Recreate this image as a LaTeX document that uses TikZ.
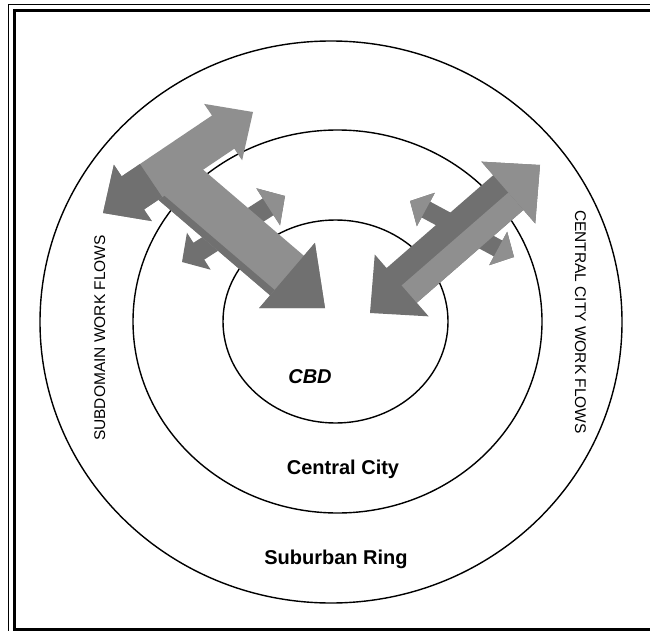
\documentclass[tikz,border=0pt]{standalone}
\usepackage{fontspec}
\setmainfont{Liberation Sans}
\usetikzlibrary{calc}
\definecolor{arrdark}{gray}{0.44}
\definecolor{arrmid}{gray}{0.56}
% double-headed block arrow: #1 tip A, #2 tip B, #3 shaft half width, #4 head half width, #5 head length, #6 style
\newcommand{\dblarr}[6]{%
  \coordinate (qa) at #1; \coordinate (qb) at #2;
  \coordinate (qa1) at ($(qa)!#5!(qb)$);
  \coordinate (qb1) at ($(qb)!#5!(qa)$);
  \fill[#6] (qa) -- ($(qa1)!#4!90:(qb)$) -- ($(qa1)!#3!90:(qb)$) -- ($(qb1)!#3!90:(qb)$)
    -- ($(qb1)!#4!90:(qb)$) -- (qb) -- ($(qb1)!#4!-90:(qb)$) -- ($(qb1)!#3!-90:(qb)$)
    -- ($(qa1)!#3!-90:(qb)$) -- ($(qa1)!#4!-90:(qb)$) -- cycle;}
% single-headed block arrow: #1 tail, #2 tip, #3 shaft half width, #4 head half width, #5 head length, #6 style
\newcommand{\sglarr}[6]{%
  \coordinate (qa) at #1; \coordinate (qb) at #2;
  \coordinate (qb1) at ($(qb)!#5!(qa)$);
  \fill[#6] ($(qa)!#3!90:(qb)$) -- ($(qb1)!#3!90:(qb)$) -- ($(qb1)!#4!90:(qb)$) -- (qb)
    -- ($(qb1)!#4!-90:(qb)$) -- ($(qb1)!#3!-90:(qb)$) -- ($(qa)!#3!-90:(qb)$) -- cycle;}
% arrow head with shaft stub: #1 tip, #2 point toward tail, #3 head length, #4 head half width, #5 stub end distance, #6 shaft half width, #7 style
\newcommand{\arrhead}[7]{%
  \coordinate (qt) at #1; \coordinate (qo) at #2;
  \coordinate (qh) at ($(qt)!#3!(qo)$);
  \coordinate (qs) at ($(qt)!#5!(qo)$);
  \fill[#7] (qt) -- ($(qh)!#4!90:(qo)$) -- ($(qh)!#6!90:(qo)$) -- ($(qs)!#6!90:(qo)$)
    -- ($(qs)!#6!-90:(qo)$) -- ($(qh)!#6!-90:(qo)$) -- ($(qh)!#4!-90:(qo)$) -- cycle;}
% band along a shaft: #1 A, #2 B, #3 side angle (90 or -90), #4 inner offset, #5 outer offset, #6 style
\newcommand{\shaftband}[6]{%
  \coordinate (qa) at #1; \coordinate (qb) at #2;
  \coordinate (qx) at ($(qa)!2!(qb)$);
  \fill[#6] ($(qa)!#4!#3:(qb)$) -- ($(qb)!#4!#3:(qx)$) -- ($(qb)!#5!#3:(qx)$) -- ($(qa)!#5!#3:(qb)$) -- cycle;}
\tikzset{
  ring/.style={draw=black, line width=1.4pt},
  lbl/.style={anchor=base, inner sep=0pt, font=\fontsize{20}{24}\selectfont\bfseries},
  vlbl/.style={anchor=base, inner sep=0pt, font=\fontsize{15.5}{18}\selectfont},
  frame/.style={draw=black, line cap=butt, line join=miter}
}
\begin{document}
\begin{tikzpicture}[x=1pt, y=-1pt]
\useasboundingbox (0,0) rectangle (650,631);
\fill[white] (0,0) rectangle (650,631);
% frame
\draw[frame, line width=1.2pt] (8.5,631) -- (8.5,4.5) -- (650,4.5);
\draw[frame, line width=3.5pt] (14.5,631) -- (14.5,10.5) -- (650,10.5);
\draw[frame, line width=4pt] (12.75,629.5) -- (650,629.5);
% rings
\draw[ring] (331,322) ellipse [x radius=291pt, y radius=281pt];
\draw[ring] (337.5,321.5) ellipse [x radius=204.5pt, y radius=191.5pt];
\draw[ring] (335.5,321.5) ellipse [x radius=112.5pt, y radius=101.5pt];
% ---- left group (subdomain work flows)
\dblarr{(182,262)}{(285,196)}{10pt}{22pt}{20pt}{arrdark}
\arrhead{(285,196)}{(182,262)}{20pt}{22pt}{20pt}{10pt}{arrmid}
\sglarr{(174,179)}{(325,308)}{26pt}{43pt}{50pt}{arrmid}
\shaftband{(174,179)}{($(325,308)!50pt!(174,179)$)}{-90}{19pt}{26pt}{arrdark}
\arrhead{(325,308)}{(174,179)}{50pt}{43pt}{50pt}{26pt}{arrdark}
\dblarr{(103,213)}{(253,112)}{20pt}{34pt}{36pt}{arrmid}
\arrhead{(103,213)}{(253,112)}{36pt}{34pt}{58pt}{20pt}{arrdark}
% ---- right group (central city work flows)
\dblarr{(410,201)}{(514,257)}{9pt}{19pt}{18pt}{arrdark}
\arrhead{(410,201)}{(514,257)}{18pt}{19pt}{18pt}{9pt}{arrmid}
\arrhead{(514,257)}{(410,201)}{18pt}{19pt}{18pt}{9pt}{arrmid}
\dblarr{(370,313)}{(540,165)}{23pt}{41pt}{42pt}{arrdark}
\shaftband{($(370,313)!42pt!(540,165)$)}{($(540,165)!42pt!(370,313)$)}{-90}{0pt}{23pt}{arrmid}
\arrhead{(540,165)}{(370,313)}{42pt}{41pt}{42pt}{23pt}{arrmid}
% labels
\node[lbl, font=\fontsize{20}{24}\selectfont\bfseries\itshape] (cbd) at (310,383) {CBD};
\node[lbl] (cc) at (343,474) {Central City};
\node[lbl] (sr) at (336,564) {Suburban Ring};
\node[vlbl, rotate=90] (sub) at (105,338) {SUBDOMAIN WORK FLOWS};
\node[vlbl, rotate=-90] (ccw) at (575,322) {CENTRAL CITY WORK FLOWS};
\end{tikzpicture}
\end{document}
